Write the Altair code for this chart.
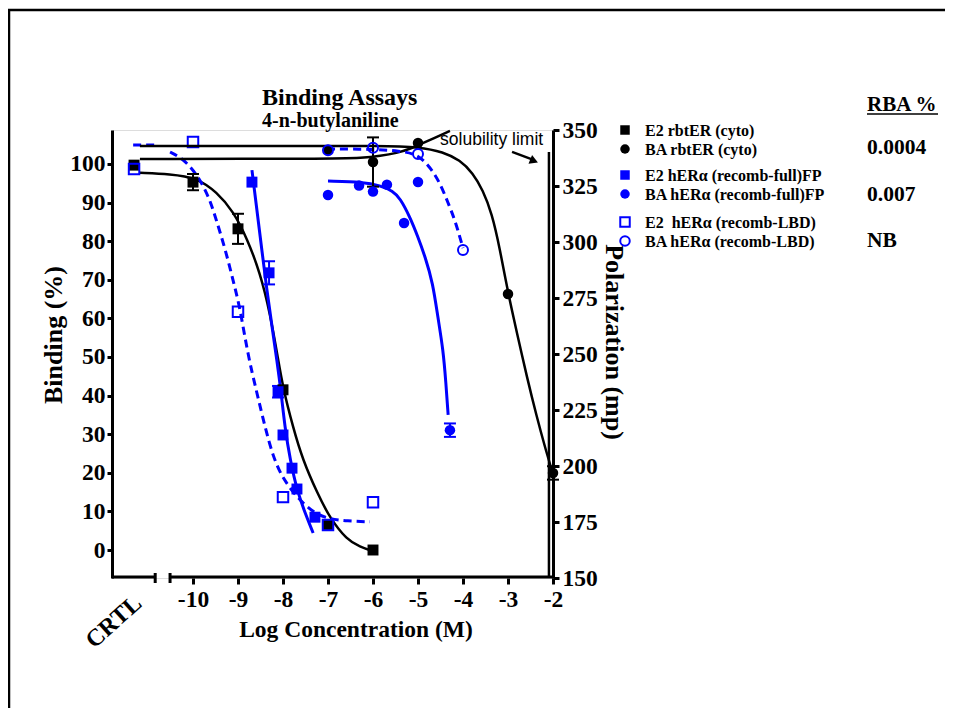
import altair as alt
import pandas as pd

BLUE = "#0000ff"
BLACK = "#000000"
SERIF = "Liberation Serif"
SANS = "Liberation Sans"

X_DOMAIN = [-11.8, -2.0]
LEFT_DOMAIN = [-7.25, 108.8]
RIGHT_DOMAIN = [150, 350]
W, H = 441, 448
CRTL_X = -11.31

# ---------------- measured points: left axis (Binding %) ----------------
e2_rbt_x = [CRTL_X, -10, -9, -8, -7, -6]
e2_rbt_y = [99.7, 95.3, 83.2, 41.5, 6.5, 0.0]
e2_rbt_err = [0, 2.1, 3.9, 0, 0, 0]

e2_full_x = [-8.69, -8.31, -8.11, -8.0, -7.8, -7.69, -7.29]
e2_full_y = [95.3, 71.8, 41.0, 29.8, 21.2, 15.8, 8.5]
e2_full_err = [0, 3.0, 1.5, 0, 0, 0, 0]

e2_lbd_x = [CRTL_X, -10, -9, -8, -7, -6]
e2_lbd_y = [98.7, 105.7, 61.7, 13.7, 6.5, 12.4]

# ---------------- measured points: right axis (Polarization mP) ----------------
ba_rbt_x = [-7, -6, -5, -3, -2]
ba_rbt_y = [341.1, 335.7, 344.2, 276.8, 196.9]
ba_rbt_err = [0, 11, 0, 0, 3]

ba_full_x = [-7, -6.31, -6, -5.69, -5.31, -5, -4.29]
ba_full_y = [321.0, 325.2, 322.5, 325.6, 308.5, 326.8, 216.0]
ba_full_err = [0, 0, 0, 0, 0, 0, 3]

ba_lbd_x = [-7, -6, -5, -4]
ba_lbd_y = [341.0, 342.1, 339.3, 296.4]

# ---------------- fitted curves ----------------
fit_e2_rbt_x = [-11.18, -10.51, -9.91, -9.47, -9.11, -8.80, -8.51, -8.29, -8.11, -8.00,
                -7.78, -7.56, -7.24, -6.96, -6.58, -6.29, -6.00]
fit_e2_rbt_y = [97.7, 97.4, 96.4, 92.7, 87.8, 80.8, 71.8, 61.5, 49.5, 42.0,
                31.9, 23.3, 14.8, 8.3, 2.6, 0.8, -0.3]

fit_e2_full_x = [-8.69, -8.58, -8.47, -8.36, -8.24, -8.13, -8.04, -7.96, -7.84, -7.69, -7.51, -7.33]
fit_e2_full_y = [98.4, 88.1, 77.7, 67.4, 57.5, 48.7, 40.7, 31.9, 23.3, 15.5, 9.6, 4.4]

fit_e2_lbd_x = [-11.33, -10.84, -10.51, -10.29, -10.07, -9.84, -9.62, -9.47, -9.29, -9.11,
                -8.96, -8.78, -8.58, -8.40, -8.22, -8.00, -7.69, -7.33, -6.96, -6.58, -6.07]
fit_e2_lbd_y = [104.9, 104.9, 103.1, 101.8, 99.5, 95.9, 90.7, 85.0, 78.2, 69.9,
                63.0, 50.5, 40.7, 31.9, 24.1, 18.4, 13.7, 9.6, 8.0, 7.5, 7.3]
fit_e2_lbd_seg = [0, 0] + [1] * 19

fit_ba_rbt_x = [-11.18, -7.62, -5.84, -4.96, -4.44, -4.07, -3.78, -3.56, -3.36, -3.18,
                -3.00, -2.80, -2.58, -2.36, -2.18, -2.00]
fit_ba_rbt_y = [342.9, 342.9, 342.9, 342.4, 340.2, 336.6, 330.8, 323.2, 312.9, 297.0,
                277.2, 259.4, 239.7, 221.9, 208.5, 196.4]

fit_ba_rbt2_x = [-11.18, -6.96, -6.22, -5.84, -5.47, -5.18, -5.00, -4.64, -4.29]
fit_ba_rbt2_y = [337.1, 337.1, 337.5, 338.4, 339.7, 341.5, 343.3, 346.4, 349.6]

fit_ba_full_x = [-7.00, -6.22, -5.84, -5.56, -5.40, -5.18, -5.00, -4.84, -4.67, -4.56,
                 -4.44, -4.38, -4.33]
fit_ba_full_y = [327.2, 326.8, 325.2, 322.8, 319.6, 311.2, 302.2, 293.3, 281.7, 266.5,
                 251.8, 237.1, 222.8]

fit_ba_lbd_x = [-7.02, -6.00, -5.40, -5.02, -4.73, -4.51, -4.33, -4.18, -4.07, -4.00]
fit_ba_lbd_y = [341.5, 341.5, 340.6, 339.3, 333.5, 326.3, 317.4, 309.8, 302.2, 297.3]

# ---------------- text ----------------
x_ticks = [-10, -9, -8, -7, -6, -5, -4, -3, -2]
left_ticks = list(range(0, 101, 10))
right_ticks = list(range(150, 351, 25))
axis_break = [-10.84, -10.51]
solubility_x = -2.09

legend_labels = ["E2 rbtER (cyto)", "BA rbtER (cyto)",
                 "E2 hERα (recomb-full)FP", "BA hERα (recomb-full)FP",
                 "E2\u00a0 hERα (recomb-LBD)", "BA hERα (recomb-LBD)"]
rba_values = ["0.0004", "0.007", "NB"]

# ---------------- scales / axes ----------------
XS = alt.Scale(domain=X_DOMAIN, nice=False, zero=False)
YL = alt.Scale(domain=LEFT_DOMAIN, nice=False, zero=False)
YR = alt.Scale(domain=RIGHT_DOMAIN, nice=False, zero=False)

lab = dict(labelFont=SERIF, labelFontWeight="bold", labelFontSize=23.5, labelColor=BLACK,
           labelFlush=False, grid=False, title=None, tickColor=BLACK, tickWidth=3)
AX_X = alt.Axis(orient="bottom", values=x_ticks, domain=False, tickSize=6, labelPadding=3,
                labelExpr="'-' + (-datum.value)", **lab)
AX_L = alt.Axis(orient="left", values=left_ticks, domain=True, domainWidth=3, domainColor=BLACK,
                tickSize=5, labelPadding=2, **lab)
AX_R = alt.Axis(orient="right", values=right_ticks, domain=True, domainWidth=3, domainColor=BLACK,
                tickSize=6, labelPadding=3, **lab)


def X(f):
    return alt.X(f"{f}:Q", scale=XS, axis=AX_X)


def YLf(f):
    return alt.Y(f"{f}:Q", scale=YL, axis=AX_L)


def YRf(f):
    return alt.Y(f"{f}:Q", scale=YR, axis=AX_R)


def curve(xs, ys, color, yf, dash=None, width=2.5, seg=None):
    df = pd.DataFrame({"x": xs, "y": ys, "seg": seg if seg else [0] * len(xs)})
    kw = dict(color=color, strokeWidth=width, interpolate="basis")
    if dash:
        kw["strokeDash"] = dash
    return alt.Chart(df).mark_line(**kw).encode(x=X("x"), y=yf("y"), detail="seg:N")


def pts(xs, ys, color, shape, filled, yf, size=115):
    df = pd.DataFrame({"x": xs, "y": ys})
    return alt.Chart(df).mark_point(shape=shape, filled=filled, color=color, size=size,
                                    opacity=1, strokeWidth=2).encode(x=X("x"), y=yf("y"))


def errs(xs, ys, es, color, yf):
    rows = [(x, y - e, y + e) for x, y, e in zip(xs, ys, es) if e > 0]
    df = pd.DataFrame(rows, columns=["x", "lo", "hi"])
    base = alt.Chart(df)
    v = base.mark_rule(color=color, strokeWidth=2).encode(x=X("x"), y=yf("lo"), y2=alt.Y2("hi"))
    c1 = base.mark_rule(color=color, strokeWidth=2, xOffset=-6, x2Offset=6).encode(
        x=X("x"), x2=alt.X2("x"), y=yf("lo"))
    c2 = base.mark_rule(color=color, strokeWidth=2, xOffset=-6, x2Offset=6).encode(
        x=X("x"), x2=alt.X2("x"), y=yf("hi"))
    return [v, c1, c2]


def txt(text, x, y, size=21, angle=0, align="center", baseline="middle", font=SERIF,
        weight="bold"):
    kw = dict(text=text, font=font, fontSize=size, fontWeight=weight, color=BLACK,
              align=align, baseline=baseline)
    if angle:
        kw["angle"] = angle
    return alt.Chart(pd.DataFrame({"a": [0]})).mark_text(**kw).encode(
        x=alt.value(x), y=alt.value(y))


one = pd.DataFrame({"a": [0]})

# ---------------- left group ----------------
seg_df = pd.DataFrame({"x0": [X_DOMAIN[0], axis_break[1]], "x1": [axis_break[0], X_DOMAIN[1]]})
axis_line = alt.Chart(seg_df).mark_rule(color=BLACK, strokeWidth=3).encode(
    x=X("x0"), x2=alt.X2("x1"), y=alt.value(H - 1))
break_ticks = alt.Chart(pd.DataFrame({"x": axis_break})).mark_rule(
    color=BLACK, strokeWidth=3).encode(x=X("x"), y=alt.value(H - 5), y2=alt.value(H + 5))

left_layers = [
    axis_line, break_ticks,
    curve(fit_e2_rbt_x, fit_e2_rbt_y, BLACK, YLf, width=2.5),
    curve(fit_e2_full_x, fit_e2_full_y, BLUE, YLf, width=3),
    curve(fit_e2_lbd_x, fit_e2_lbd_y, BLUE, YLf, dash=[8, 5], width=3, seg=fit_e2_lbd_seg),
    *errs(e2_rbt_x, e2_rbt_y, e2_rbt_err, BLACK, YLf),
    *errs(e2_full_x, e2_full_y, e2_full_err, BLUE, YLf),
    pts(e2_rbt_x, e2_rbt_y, BLACK, "square", True, YLf, 120),
    pts(e2_full_x, e2_full_y, BLUE, "square", True, YLf, 120),
    pts(e2_lbd_x, e2_lbd_y, BLUE, "square", False, YLf, 110),
]

# frame
left_layers.append(alt.Chart(one).mark_rule(color=BLACK, strokeWidth=2.5).encode(
    x=alt.value(-103), y=alt.value(-120), y2=alt.value(600)))
left_layers.append(alt.Chart(one).mark_rule(color=BLACK, strokeWidth=2.5).encode(
    x=alt.value(-104), x2=alt.value(840), y=alt.value(-120)))

# titles & axis titles
left_layers += [
    txt("Binding Assays", 150, -25, size=24, align="left", baseline="alphabetic"),
    txt("4-n-butylaniline", 150, -3, size=20, align="left", baseline="alphabetic"),
    txt("Binding (%)", -58, 205, size=26, angle=270),
    txt("Polarization (mp)", 502, 212, size=26, angle=90),
    txt("Log Concentration (M)", 244, 500, size=23.5),
    txt("CRTL", 2, 492, size=24, angle=318),
]

# legend
leg_rows = [0, 19, 45, 64, 92, 111]
leg_sym = [("square", True, BLACK), ("circle", True, BLACK), ("square", True, BLUE),
           ("circle", True, BLUE), ("square", False, BLUE), ("circle", False, BLUE)]
for lbl, yy, (shp, fil, col) in zip(legend_labels, leg_rows, leg_sym):
    left_layers.append(alt.Chart(one).mark_point(shape=shp, filled=fil, color=col, size=90,
                                                 opacity=1, strokeWidth=2).encode(
        x=alt.value(513), y=alt.value(yy)))
    left_layers.append(txt(lbl, 533, yy + 1, size=16, align="left"))

left_layers.append(txt("RBA %", 755, -25, size=21, align="left"))
left_layers.append(alt.Chart(one).mark_rule(color=BLACK, strokeWidth=1.5).encode(
    x=alt.value(755), x2=alt.value(826), y=alt.value(-16)))
for v, yy in zip(rba_values, [18, 65, 111]):
    left_layers.append(txt(v, 755, yy, size=21.5, align="left"))

left_group = alt.layer(*left_layers)

# ---------------- right group ----------------
sol_df = pd.DataFrame({"x": [solubility_x], "y0": [340.2], "y1": [150.0]})
sol_line = alt.Chart(sol_df).mark_rule(color=BLACK, strokeWidth=2.5).encode(
    x=X("x"), y=YRf("y0"), y2=alt.Y2("y1"))
arrow_df = pd.DataFrame({"x0": [-2.91], "y0": [340.2], "x1": [-2.48], "y1": [337.0]})
arrow = alt.Chart(arrow_df).mark_rule(color=BLACK, strokeWidth=2.5).encode(
    x=X("x0"), y=YRf("y0"), x2=alt.X2("x1"), y2=alt.Y2("y1"))
head = alt.Chart(pd.DataFrame({"x": [-2.42], "y": [336.2]})).mark_point(
    shape="triangle-right", filled=True, color=BLACK, size=90, angle=22, opacity=1).encode(
    x=X("x"), y=YRf("y"))
sol_text = alt.Chart(pd.DataFrame({"x": [-4.51], "y": [343.3], "t": ["solubility limit"]})).mark_text(
    font=SANS, fontSize=17.5, color=BLACK, align="left", baseline="alphabetic").encode(
    x=X("x"), y=YRf("y"), text="t:N")

right_layers = [
    sol_line, arrow, head, sol_text,
    curve(fit_ba_rbt_x, fit_ba_rbt_y, BLACK, YRf, width=2.5),
    curve(fit_ba_rbt2_x, fit_ba_rbt2_y, BLACK, YRf, width=2.5),
    curve(fit_ba_full_x, fit_ba_full_y, BLUE, YRf, width=3),
    curve(fit_ba_lbd_x, fit_ba_lbd_y, BLUE, YRf, dash=[8, 5], width=3),
    *errs(ba_rbt_x, ba_rbt_y, ba_rbt_err, BLACK, YRf),
    *errs(ba_full_x, ba_full_y, ba_full_err, BLUE, YRf),
    pts(ba_rbt_x, ba_rbt_y, BLACK, "circle", True, YRf, 110),
    pts(ba_full_x, ba_full_y, BLUE, "circle", True, YRf, 110),
    pts(ba_lbd_x, ba_lbd_y, BLUE, "circle", False, YRf, 100),
]
right_group = alt.layer(*right_layers)

chart = alt.layer(left_group, right_group).resolve_scale(y="independent").properties(
    width=W, height=H,
    autosize=alt.AutoSizeParams(type="none"),
    padding={"left": 104, "top": 122, "right": 392, "bottom": 130},
).configure_view(strokeWidth=0).configure(background="white")

chart.save("out.html", embed_options={"renderer": "svg", "actions": False})
